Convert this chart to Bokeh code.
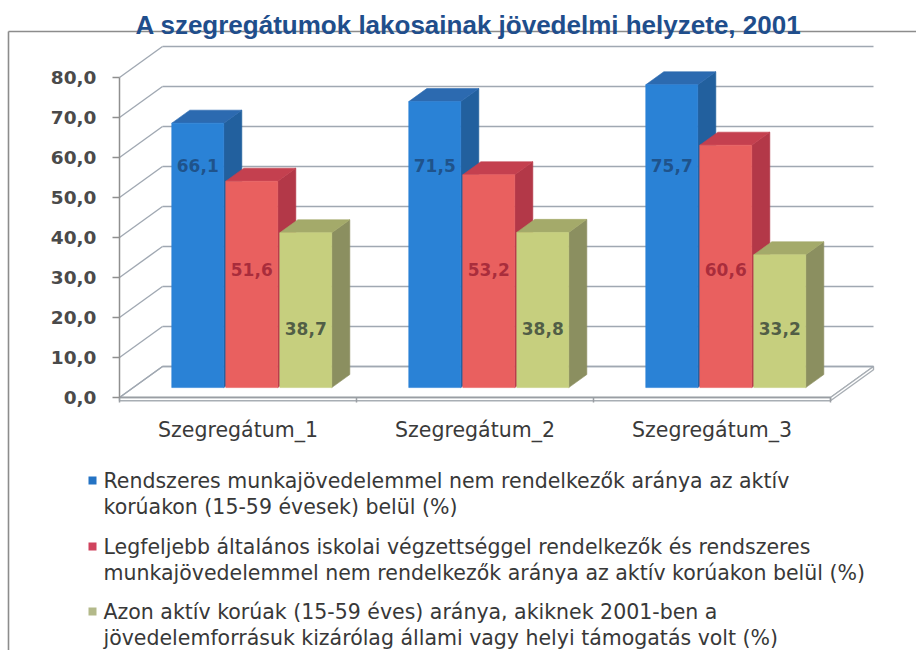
from bokeh.plotting import figure
from bokeh.models import Range1d, LinearAxis, FixedTicker, ColumnDataSource
from bokeh.core.properties import value
from bokeh.embed import file_html
from bokeh.resources import INLINE

# ---------------- data ----------------
title = "A szegregátumok lakosainak jövedelmi helyzete, 2001"
categories = ["Szegregátum_1", "Szegregátum_2", "Szegregátum_3"]
blue_vals = [66.1, 71.5, 75.7]
red_vals = [51.6, 53.2, 60.6]
green_vals = [38.7, 38.8, 33.2]
y_ticks = [0, 10, 20, 30, 40, 50, 60, 70, 80]
legend_blue = ["Rendszeres munkajövedelemmel nem rendelkezők aránya az aktív",
               "korúakon (15-59 évesek) belül (%)"]
legend_red = ["Legfeljebb általános iskolai végzettséggel rendelkezők és rendszeres",
              "munkajövedelemmel nem rendelkezők aránya az aktív korúakon belül (%)"]
legend_green = ["Azon aktív korúak (15-59 éves) aránya, akiknek 2001-ben a",
                "jövedelemforrásuk kizárólag állami vagy helyi támogatás volt (%)"]

# ---------------- layout / style constants ----------------
W, H = 916, 650
PAGE = 0
AX_X = 119          # page x of the front value axis
FLOOR_Y = 397       # page y of value 0 on the front plane
PPU = 4.0           # pixels per value unit
CAT_W = 237
DX = 43             # depth offset in px (x)
DYU = 31 / PPU      # depth offset in value units (y)
BAR_W = 52
BAR_STEP = 54
Z0, Z1 = 0.32, 0.74
FONT = "DejaVu Sans"

# lab_h: height (in axis units, on the bar face) at which a series' value labels sit
series = [
    dict(vals=blue_vals, front="#2A82D6", side="#22609E", top="#2C6AB0",
         lab="#1D4B7E", lab_h=55.5, leg=legend_blue, sq="#2473C4"),
    dict(vals=red_vals, front="#E9605F", side="#B33848", top="#C4404F",
         lab="#9E2436", lab_h=29.4, leg=legend_red, sq="#D0435E"),
    dict(vals=green_vals, front="#C6CF7E", side="#8B8F60", top="#A4AA6A",
         lab="#3C4A3C", lab_h=14.7, leg=legend_green, sq="#B3B98A"),
]


def vy(py):
    return (FLOOR_Y - py) / PPU


def proj(x, v, z):
    return x + DX * z, v + DYU * z


p = figure(width=W, height=H, output_backend="svg", toolbar_location=None,
           x_range=Range1d(PAGE, PAGE + W), y_range=Range1d(vy(PAGE + H), vy(PAGE)),
           x_axis_location=None, y_axis_location=None, min_border=0,
           outline_line_color=None, background_fill_color="white")
p.grid.visible = False

# outer box (top + left border)
box_top = vy(31)
p.segment(x0=[8, 8], y0=[box_top, box_top], x1=[PAGE + W, 8], y1=[box_top, vy(PAGE + H)],
          line_color="#8c8c8c", line_width=1.6)

# title
p.text(x=[468], y=[vy(24)], text=[title], text_font=value("Liberation Sans"),
       text_font_style="bold", text_font_size="26px", text_color="#1F4E8C",
       text_align="center", text_baseline="alphabetic")

n = len(categories)
x_right = AX_X + n * CAT_W

# floor slab
t = 0.8
fx = [[proj(AX_X, 0, 0)[0], proj(x_right, 0, 0)[0], proj(x_right, 0, 1)[0], proj(AX_X, 0, 1)[0]],
      [x_right, x_right + DX, x_right + DX, x_right],
      [AX_X, x_right, x_right, AX_X]]
fy = [[proj(AX_X, 0, 0)[1], proj(x_right, 0, 0)[1], proj(x_right, 0, 1)[1], proj(AX_X, 0, 1)[1]],
      [0, proj(x_right, 0, 1)[1], proj(x_right, 0, 1)[1] - t, -t],
      [0, 0, -t, -t]]
p.patches(xs=fx, ys=fy, fill_color="white", line_color="#a8aeb4", line_width=1.4)

# back wall gridlines and left-wall diagonals
gx0, gy0, gx1, gy1 = [], [], [], []
for tv in y_ticks:
    a = proj(AX_X, tv, 1)
    b = proj(x_right, tv, 1)
    gx0.append(a[0]); gy0.append(a[1]); gx1.append(b[0]); gy1.append(b[1])
p.segment(x0=gx0, y0=gy0, x1=gx1, y1=gy1, line_color="#a0a8b2", line_width=1.6)
dx0, dy0, dx1, dy1 = [], [], [], []
for tv in y_ticks:
    a = proj(AX_X, tv, 0)
    b = proj(AX_X, tv, 1)
    dx0.append(a[0]); dy0.append(a[1]); dx1.append(b[0]); dy1.append(b[1])
p.segment(x0=dx0, y0=dy0, x1=dx1, y1=dy1, line_color="#a0a8b2", line_width=1.4)

# bars (3D)
xs, ys, cols = [], [], []
lx, ly, lt, lc = [], [], [], []
for i in range(n):
    center = AX_X + CAT_W * (i + 0.5)
    start = center - (3 * BAR_STEP - (BAR_STEP - BAR_W)) / 2
    for j, s in enumerate(series):
        v = s["vals"][i]
        x0 = start + j * BAR_STEP
        x1 = x0 + BAR_W
        # side face
        pts = [proj(x1, 0, Z0), proj(x1, 0, Z1), proj(x1, v, Z1), proj(x1, v, Z0)]
        xs.append([q[0] for q in pts]); ys.append([q[1] for q in pts]); cols.append(s["side"])
        # top face
        pts = [proj(x0, v, Z0), proj(x1, v, Z0), proj(x1, v, Z1), proj(x0, v, Z1)]
        xs.append([q[0] for q in pts]); ys.append([q[1] for q in pts]); cols.append(s["top"])
        # front face
        pts = [proj(x0, 0, Z0), proj(x1, 0, Z0), proj(x1, v, Z0), proj(x0, v, Z0)]
        xs.append([q[0] for q in pts]); ys.append([q[1] for q in pts]); cols.append(s["front"])
        c = proj((x0 + x1) / 2, min(s["lab_h"], v * 0.9), Z0)
        lx.append(c[0]); ly.append(c[1]); lt.append(f"{v:.1f}".replace(".", ",")); lc.append(s["lab"])

src = ColumnDataSource(dict(xs=xs, ys=ys, c=cols))
p.patches(xs="xs", ys="ys", fill_color="c", line_color="c", line_width=0.6, source=src)

lsrc = ColumnDataSource(dict(x=lx, y=ly, t=lt, c=lc))
p.text(x="x", y="y", text="t", text_color="c", source=lsrc, text_font=value(FONT),
       text_font_style="bold", text_font_size="17px", text_align="center",
       text_baseline="middle", text_alpha=0.85)

# value axis (front)
yax = LinearAxis(fixed_location=AX_X, bounds=(y_ticks[0], y_ticks[-1]),
                 ticker=FixedTicker(ticks=y_ticks),
                 major_label_overrides={tv: f"{tv:.1f}".replace(".", ",") for tv in y_ticks})
yax.axis_line_color = "#8f8f8f"
yax.axis_line_width = 1.5
yax.major_tick_line_color = "#8f8f8f"
yax.major_tick_line_width = 1.5
yax.major_tick_in = 0
yax.major_tick_out = 7
yax.minor_tick_line_color = None
yax.major_label_standoff = 16
yax.major_label_text_font = FONT
yax.major_label_text_font_style = "bold"
yax.major_label_text_font_size = "18.5px"
yax.major_label_text_color = "#4a4a4a"
p.add_layout(yax, "left")

# category axis: ticks at boundaries
bounds_ticks = [AX_X + CAT_W * k for k in range(n + 1)]
xax_t = LinearAxis(fixed_location=0, bounds=(AX_X, x_right),
                   ticker=FixedTicker(ticks=bounds_ticks),
                   major_label_overrides={b: "" for b in bounds_ticks})
xax_t.axis_line_color = "#9a9ea3"
xax_t.axis_line_width = 1.6
xax_t.major_tick_line_color = "#9a9ea3"
xax_t.major_tick_line_width = 1.5
xax_t.major_tick_in = 0
xax_t.major_tick_out = 5
xax_t.minor_tick_line_color = None
xax_t.major_label_text_color = None
p.add_layout(xax_t, "below")

# category axis: labels at centres
centers = [AX_X + CAT_W * (k + 0.5) for k in range(n)]
xax_l = LinearAxis(fixed_location=0, ticker=FixedTicker(ticks=centers),
                   major_label_overrides={c: lab for c, lab in zip(centers, categories)})
xax_l.axis_line_color = None
xax_l.major_tick_line_color = None
xax_l.minor_tick_line_color = None
xax_l.major_tick_in = 0
xax_l.major_tick_out = 0
xax_l.major_label_standoff = 20
xax_l.major_label_text_font = FONT
xax_l.major_label_text_font_size = "20.5px"
xax_l.major_label_text_color = "#3a3a3a"
p.add_layout(xax_l, "below")

# legend (drawn)
leg_first = [480, 546, 611]
line_gap = 26
sqx, sqy, sqc = [], [], []
tx, ty, tt = [], [], []
for s, py in zip(series, leg_first):
    sqx.append(92); sqy.append(vy(py)); sqc.append(s["sq"])
    for k, line in enumerate(s["leg"]):
        tx.append(103); ty.append(vy(py + k * line_gap)); tt.append(line)
p.rect(x=sqx, y=sqy, width=8, height=8 / PPU, fill_color=sqc, line_color=None)
p.text(x=tx, y=ty, text=tt, text_font=value(FONT), text_font_size="20.5px",
       text_color="#383838", text_align="left", text_baseline="middle")

open("out.html", "w").write(file_html(p, INLINE))
